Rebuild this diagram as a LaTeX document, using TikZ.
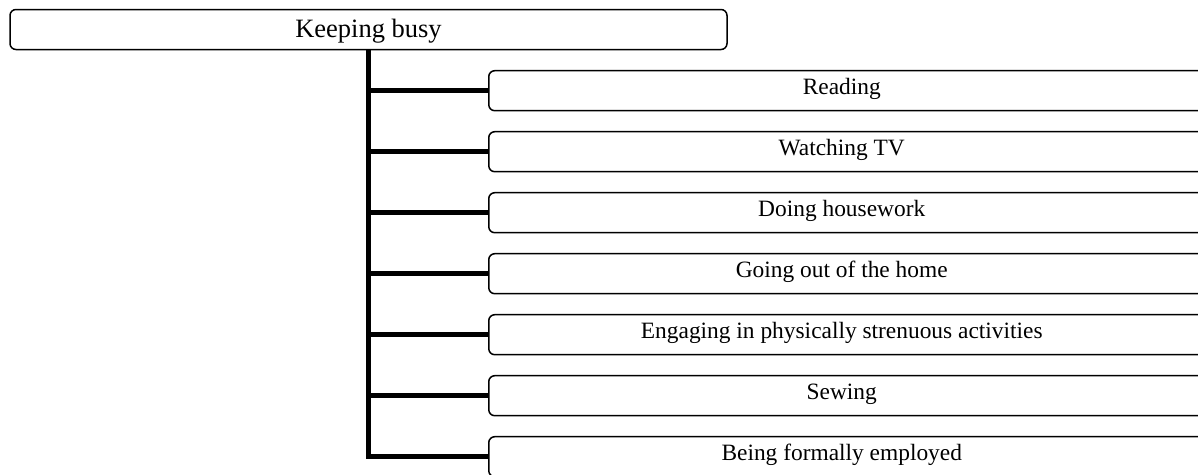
\documentclass[tikz,border=0pt]{standalone}
\usepackage{fontspec}
\setmainfont{Liberation Serif}
\usetikzlibrary{positioning}

\tikzset{
  topbox/.style={draw,line width=1.5pt,rounded corners=6pt,inner sep=0pt,
    minimum width=717pt,minimum height=40pt,text height=18pt,text depth=1.5pt,
    font=\fontsize{26.5}{30}\selectfont},
  itembox/.style={draw,line width=1.5pt,rounded corners=6pt,inner sep=0pt,anchor=west,
    minimum width=720pt,minimum height=40pt,text height=16pt,text depth=9.4pt,
    font=\fontsize{23.4}{27}\selectfont},
  trunk/.style={line width=5.5pt}
}

\begin{document}
\begin{tikzpicture}[x=1pt,y=-1pt]
  \useasboundingbox (0,0) rectangle (1198,474);
  \clip (0,0) rectangle (1198,474);
  \node[topbox] (busy) at (368.5,29.5) {Keeping busy};
  \foreach \txt [count=\i] in {Reading,Watching TV,Doing housework,Going out of the home,
      Engaging in physically strenuous activities,Sewing,Being formally employed}
    \node[itembox] (item\i) at (488,{90.7+61*(\i-1)}) {\txt\kern14pt};
  \draw[trunk] (busy.south) |- (item7.west);
  \foreach \i in {1,...,6}
    \draw[trunk] (busy.south |- item\i.west) -- (item\i.west);
\end{tikzpicture}
\end{document}
